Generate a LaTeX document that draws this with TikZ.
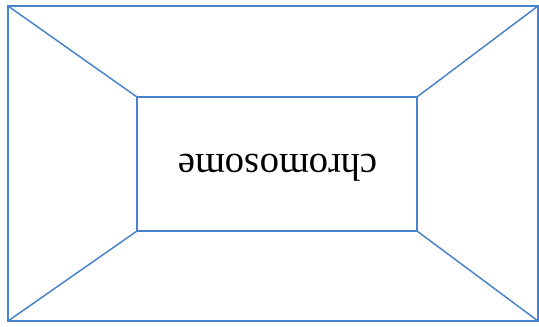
\documentclass[tikz,border=0pt]{standalone}
\usepackage{tikz}
\usepackage{fontspec}
\setmainfont{Liberation Serif}

\definecolor{scanblue}{RGB}{72,132,204}

\begin{document}
\begin{tikzpicture}[
  x=0.02cm, y=0.02cm,
  every node/.style={inner sep=1pt},
  frame/.style={draw=scanblue, line width=0.85pt, outer sep=0pt, inner sep=0pt},
  edge/.style={draw=scanblue, line width=0.85pt},
  word/.style={rotate=180, font=\fontsize{22}{26}\selectfont}]

  \useasboundingbox (0,0) rectangle (539,326);

  % boxes
  \node[frame, minimum width=10.6cm, minimum height=6.3cm] (outer) at (273,162.5) {};
  \node[frame, minimum width=5.6cm,  minimum height=2.68cm] (inner) at (277,162) {};

  % corner lines
  \draw[edge] (outer.north west) -- (inner.north west);
  \draw[edge] (outer.north east) -- (inner.north east);
  \draw[edge] (outer.south west) -- (inner.south west);
  \draw[edge] (outer.south east) -- (inner.south east);

  % label, printed upside down
  \node[word] (name) at (278,158) {chromosome};
\end{tikzpicture}
\end{document}
